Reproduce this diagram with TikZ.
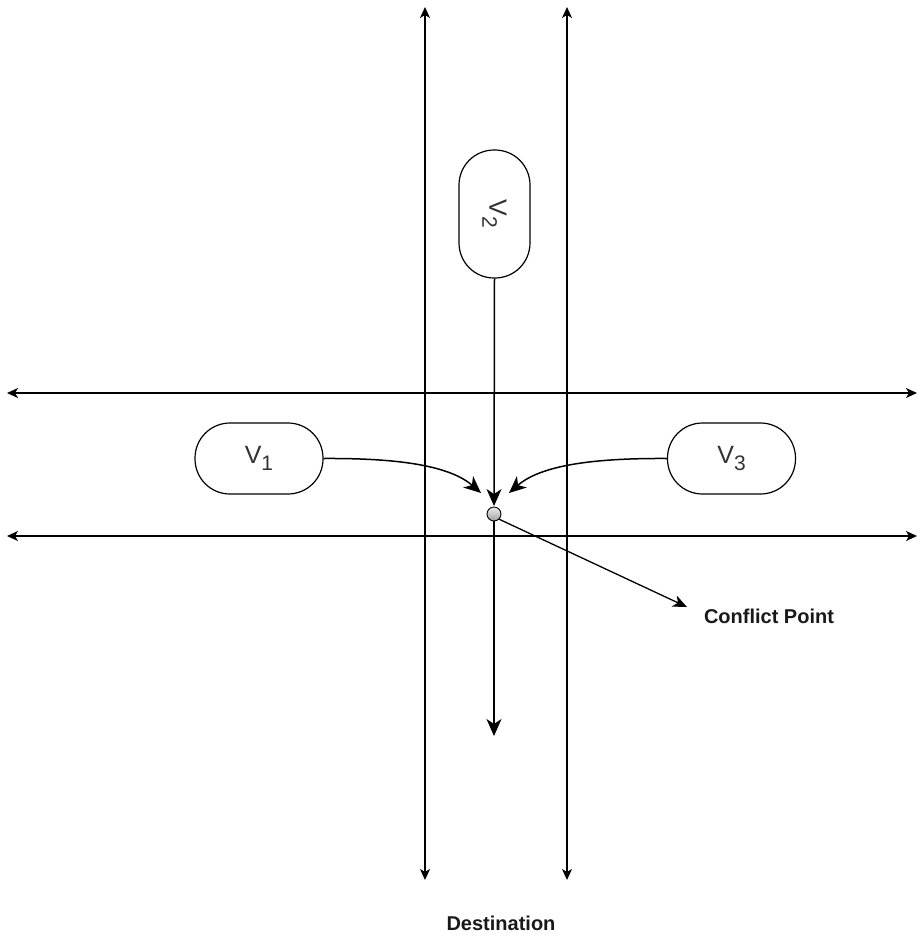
\documentclass[tikz,border=0pt]{standalone}
\usepackage{fontspec}
\setmainfont{Liberation Sans}
\usetikzlibrary{arrows.meta}
\tikzset{
  road/.style={line width=1.5pt, {Stealth[length=11pt,width=10pt,inset=3pt]}-{Stealth[length=11pt,width=10pt,inset=3pt]}},
  flow/.style={line width=1.5pt, -{Stealth[length=17pt,width=15pt,inset=5pt]}},
  thin flow/.style={line width=1.3pt, -{Stealth[length=14pt,width=12pt,inset=4pt]}},
  vehicle/.style={draw, line width=1.2pt, rounded corners=35pt, minimum width=128pt, minimum height=71pt, inner sep=0pt, text=black!80, font=\fontsize{25}{28}\selectfont},
  label text/.style={font=\bfseries\fontsize{20}{24}\selectfont, text=black!90}
}
\newcommand{\vsub}[1]{V\raisebox{-7pt}{\fontsize{21}{22}\selectfont #1}}
\begin{document}
\begin{tikzpicture}[x=1pt,y=-1pt]
\useasboundingbox (0,0) rectangle (918,938);
% road ends
\coordinate (l1t) at (425,7);
\coordinate (l1b) at (425,880);
\coordinate (l2t) at (567,7);
\coordinate (l2b) at (567,880);
\coordinate (h1l) at (7,393);
\coordinate (h1r) at (917,393);
\coordinate (h2l) at (7,536);
\coordinate (h2r) at (917,536);
\draw[road] (l1b) -- (l1t);
\draw[road] (l2b) -- (l2t);
\draw[road] (h1l) -- (h1r);
\draw[road] (h2l) -- (h2r);
% vehicles
\node[vehicle, rotate=-90] (V2) at (494.5,214) {\vsub{2}};
\node[vehicle] (V1) at (259,458.5) {\vsub{1}};
\node[vehicle] (V3) at (731.5,458.5) {\vsub{3}};
% conflict point
\node[circle, draw, line width=0.9pt, minimum size=14pt, inner sep=0pt, top color=gray!15, bottom color=gray!75] (cp) at (494,514) {};
\coordinate (t1) at (481,493);
\coordinate (t2) at (494,506);
\coordinate (t3) at (509,493);
\coordinate (t4) at (494,736);
\coordinate (t5) at (687,607);
\draw[flow] (V2.east) -- (t2);
\draw[flow] (V1.east) .. controls (400,458) and (450,466) .. (t1);
\draw[flow] (V3.west) .. controls (590,458) and (540,466) .. (t3);
\draw[flow] (cp.south) -- (t4);
\draw[thin flow] (cp.south east) -- (t5);
\node[label text] (cpl) at (769,616) {Conflict Point};
\node[label text] (dest) at (501,923) {Destination};
\end{tikzpicture}
\end{document}
